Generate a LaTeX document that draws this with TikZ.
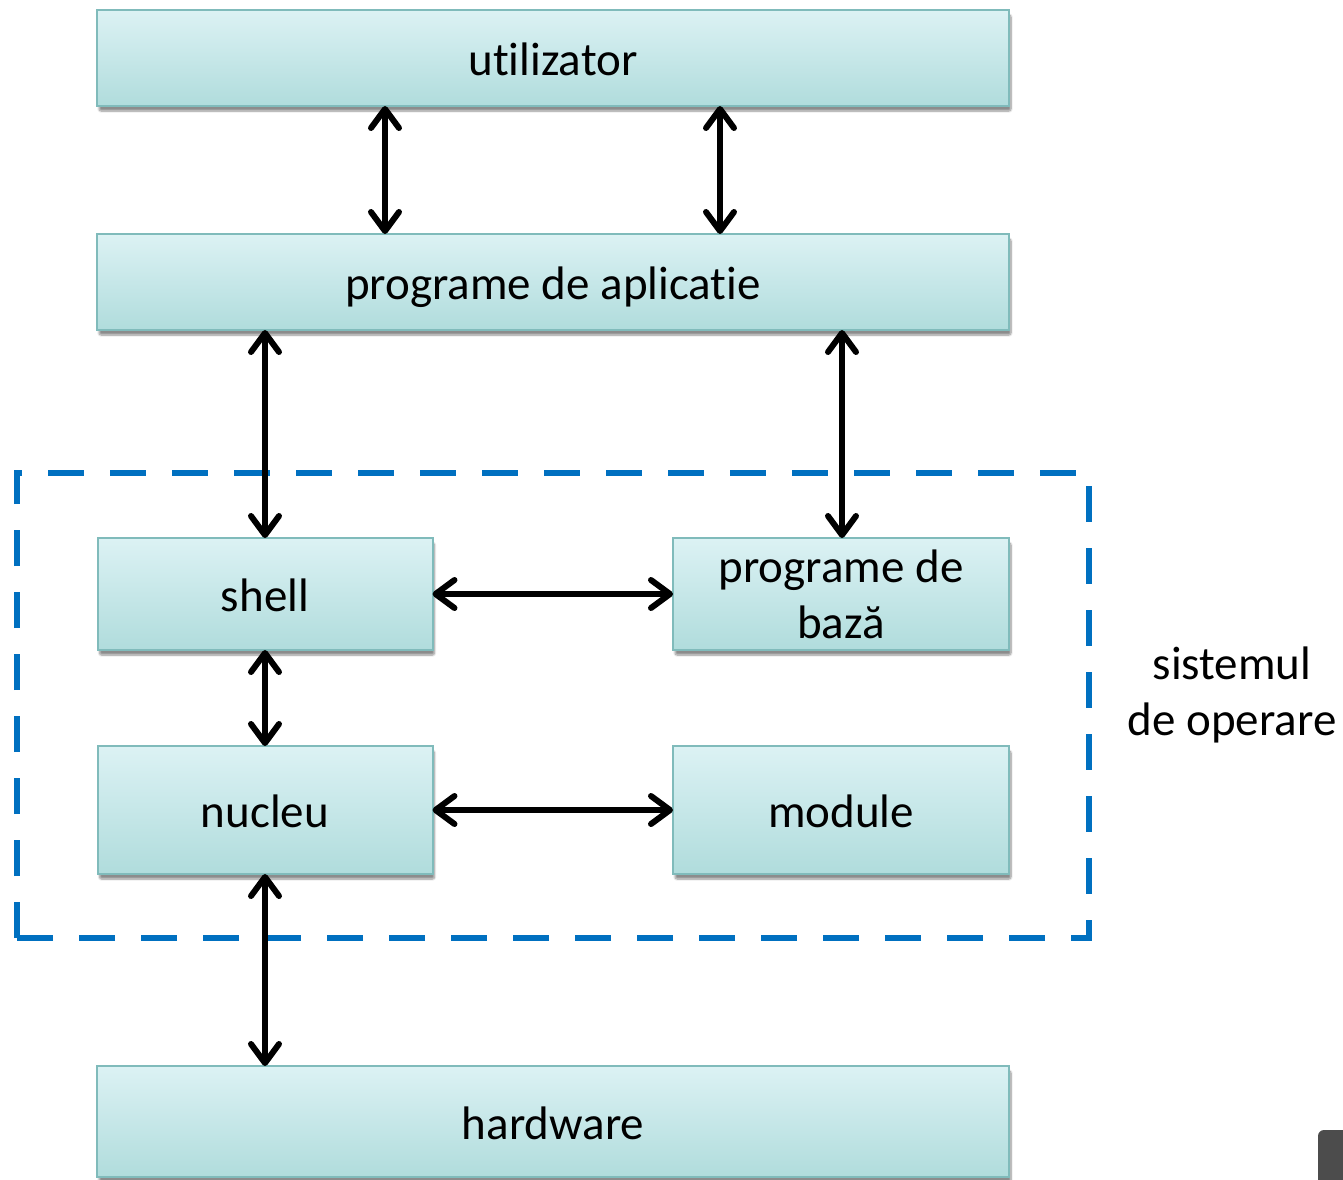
\documentclass[tikz,border=0pt]{standalone}
\usepackage{fontspec}
\setmainfont{Carlito}[RawFeature=-liga]
\usetikzlibrary{arrows.meta,shadows.blur}

\definecolor{boxtop}{HTML}{DCF2F4}
\definecolor{boxbot}{HTML}{B0DCDC}
\definecolor{boxedge}{HTML}{80BBBB}
\definecolor{osblue}{HTML}{0070C0}

\tikzset{
  layer/.style={draw=boxedge, line width=2pt, top color=boxtop, bottom color=boxbot,
    rectangle, inner sep=0pt, outer sep=0pt, align=center,
    font=\fontsize{47}{56}\selectfont,
    blur shadow={shadow xshift=2pt, shadow yshift=-5pt, shadow blur steps=8,
      shadow blur extra rounding=2pt, shadow opacity=45}},
  oneline/.style={text height=34pt, text depth=0pt},
  barb/.tip={Straight Barb[length=19pt,width=28pt,line width=6pt,round]},
  link/.style={line width=6pt, line cap=round, barb-barb},
  osframe/.style={draw=osblue, line width=6.5pt, dash pattern=on 36pt off 26pt},
  note/.style={font=\fontsize{47}{56}\selectfont, align=center, inner sep=0pt}
}

\begin{document}
\begin{tikzpicture}[x=1pt, y=-1pt]
  \useasboundingbox (0,0) rectangle (1343,1179);
  \clip (0,0) rectangle (1343,1179);

  % operating system frame
  \draw[osframe] (17,938) -- (17,473) -- (1089,473) -- (1089,938) -- cycle;

  % layers
  \node[layer, oneline, minimum width=912pt, minimum height=96pt] (usr) at (553,58) {utilizator};
  \node[layer, oneline, minimum width=912pt, minimum height=96pt] (app) at (553,282) {programe de aplicatie};
  \node[layer, oneline, minimum width=335pt, minimum height=112pt] (sh) at (265,594) {shell};
  \node[layer, minimum width=336pt, minimum height=112pt] (base) at (841,594) {programe de\\bază};
  \node[layer, oneline, minimum width=335pt, minimum height=128pt] (ker) at (265,810) {nucleu};
  \node[layer, oneline, minimum width=336pt, minimum height=128pt] (mod) at (841,810) {module};
  \node[layer, minimum width=912pt, minimum height=111pt] (hw) at (553,1121.5) {};
  \node[note, oneline] (hwt) at (553,1122) {hardware};

  \node[note] (os) at (1232,695) {sistemul\\de operare};

  % connectors
  \draw[link] (385,0 |- usr.south) -- (385,0 |- app.north);
  \draw[link] (720,0 |- usr.south) -- (720,0 |- app.north);
  \draw[link] (265,0 |- app.south) -- (265,0 |- sh.north);
  \draw[link] (842,0 |- app.south) -- (842,0 |- base.north);
  \draw[link] (sh.east) -- (base.west);
  \draw[link] (sh.south) -- (ker.north);
  \draw[link] (ker.east) -- (mod.west);
  \draw[link] (ker.south) -- (hw.north -| ker.south);

  % corner widget
  \fill[fill=black!70, rounded corners=6pt] (1318,1130) rectangle (1360,1200);
\end{tikzpicture}
\end{document}
